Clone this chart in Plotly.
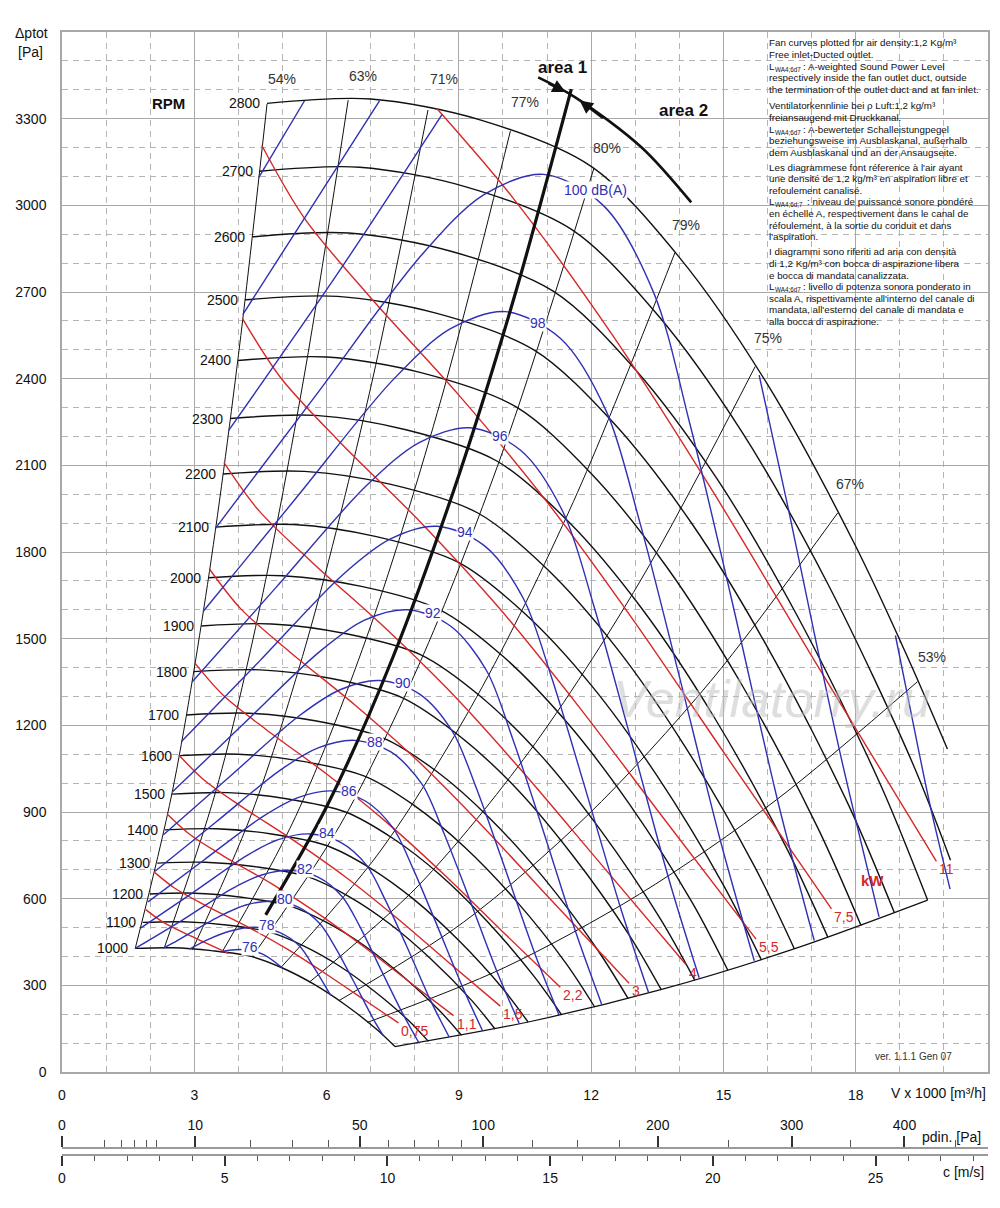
import plotly.graph_objects as go

FONT = "Liberation Sans, Arial, Helvetica, sans-serif"
INK = "#111111"
BLUE = "#3030b4"
RED = "#d62828"
GRID = "#a8a8a8"

# speed curves: flow V [x1000 m3/h] and total pressure [Pa]
rpm = [1000, 1100, 1200, 1300, 1400, 1500, 1600, 1700, 1800, 1900,
       2000, 2100, 2200, 2300, 2400, 2500, 2600, 2700, 2800]
rpm_v = [
    [1.66, 2.5, 3.39, 4.29, 5.0, 5.71, 6.43, 7.14, 7.55],
    [1.83, 2.75, 3.73, 4.71, 5.5, 6.29, 7.07, 7.86, 8.31],
    [1.99, 3.0, 4.07, 5.14, 6.0, 6.86, 7.71, 8.57, 9.06],
    [2.16, 3.25, 4.41, 5.57, 6.5, 7.43, 8.36, 9.29, 9.82],
    [2.33, 3.5, 4.75, 6.0, 7.0, 8.0, 9.0, 10.0, 10.57],
    [2.49, 3.75, 5.09, 6.43, 7.5, 8.57, 9.64, 10.71, 11.33],
    [2.66, 4.0, 5.43, 6.86, 8.0, 9.14, 10.29, 11.43, 12.08],
    [2.82, 4.25, 5.77, 7.29, 8.5, 9.71, 10.93, 12.14, 12.84],
    [2.99, 4.5, 6.11, 7.71, 9.0, 10.29, 11.57, 12.86, 13.59],
    [3.16, 4.75, 6.45, 8.14, 9.5, 10.86, 12.21, 13.57, 14.35],
    [3.32, 5.0, 6.79, 8.57, 10.0, 11.43, 12.86, 14.29, 15.1],
    [3.49, 5.25, 7.13, 9.0, 10.5, 12.0, 13.5, 15.0, 15.86],
    [3.65, 5.5, 7.46, 9.43, 11.0, 12.57, 14.14, 15.71, 16.61],
    [3.82, 5.75, 7.8, 9.86, 11.5, 13.14, 14.79, 16.43, 17.37],
    [3.99, 6.0, 8.14, 10.29, 12.0, 13.71, 15.43, 17.14, 18.12],
    [4.15, 6.25, 8.48, 10.71, 12.5, 14.29, 16.07, 17.86, 18.88],
    [4.32, 6.5, 8.82, 11.14, 13.0, 14.86, 16.71, 18.57, 19.63],
    [4.48, 6.75, 9.16, 11.57, 13.5, 15.43, 17.36, 19.29, 20.15],
    [4.65, 7.0, 9.5, 12.0, 14.0, 16.0, 18.0, 19.2, 20.08],
]
rpm_p = [
    [428, 430, 420, 400, 360, 304, 232, 147, 88],
    [518, 520, 509, 484, 435, 367, 281, 178, 106],
    [616, 619, 605, 576, 518, 437, 334, 211, 127],
    [723, 726, 710, 676, 608, 513, 392, 248, 149],
    [838, 842, 824, 784, 705, 595, 455, 288, 173],
    [962, 967, 946, 900, 809, 683, 522, 330, 198],
    [1095, 1100, 1076, 1024, 921, 777, 594, 376, 225],
    [1236, 1242, 1215, 1156, 1040, 877, 671, 424, 254],
    [1386, 1392, 1362, 1296, 1165, 984, 752, 475, 285],
    [1544, 1551, 1517, 1444, 1299, 1096, 838, 530, 318],
    [1711, 1718, 1681, 1600, 1439, 1214, 929, 587, 352],
    [1886, 1895, 1853, 1763, 1586, 1339, 1024, 647, 388],
    [2070, 2079, 2034, 1935, 1741, 1469, 1124, 710, 426],
    [2262, 2273, 2223, 2115, 1903, 1606, 1228, 776, 466],
    [2463, 2475, 2421, 2303, 2072, 1749, 1337, 845, 507],
    [2673, 2685, 2627, 2499, 2248, 1897, 1451, 917, 550],
    [2891, 2904, 2841, 2703, 2432, 2052, 1569, 992, 595],
    [3118, 3132, 3064, 2915, 2622, 2213, 1692, 1069, 733],
    [3353, 3368, 3295, 3135, 2820, 2380, 1820, 1428, 1118],
]

# constant efficiency lines
eff_labels = ["54%", "63%", "71%", "77%", "80%", "79%", "75%", "67%", "53%"]
eff_v = [
    [1.66, 2.5, 3.3, 4.0, 4.65],
    [2.32, 3.5, 4.5, 5.5, 6.49],
    [2.96, 4.3, 5.6, 7.0, 8.3],
    [3.63, 5.3, 7.0, 8.6, 10.17],
    [4.31, 6.3, 8.2, 10.1, 12.06],
    [4.96, 7.2, 9.4, 11.6, 13.9],
    [5.61, 8.1, 10.6, 13.1, 15.72],
    [6.28, 9.1, 11.9, 14.7, 17.59],
    [6.93, 10.0, 13.1, 16.2, 19.4],
]
eff_p = [
    [427, 969, 1688, 2480, 3351],
    [430, 978, 1617, 2416, 3364],
    [424, 894, 1516, 2369, 3330],
    [415, 885, 1544, 2330, 3258],
    [399, 853, 1446, 2193, 3127],
    [361, 761, 1297, 1975, 2836],
    [311, 648, 1110, 1696, 2442],
    [247, 518, 886, 1351, 1935],
    [172, 359, 616, 942, 1351],
]
eff_label_v = [4.99, 6.83, 8.67, 10.51, 12.37, 14.16, 16.02, 17.88, 19.74]
eff_label_p = [3439, 3446, 3439, 3356, 3197, 2931, 2540, 2035, 1436]

# lower limit of the field, area boundary and arrow
limit_v = [7.55, 10.6, 13.6, 16.6, 19.63]
limit_p = [88, 174, 286, 426, 595]
area_v = [4.62, 6.0, 7.5, 9.0, 10.3, 11.55]
area_p = [544, 918, 1434, 2066, 2705, 3402]
arrow_v = [10.8, 11.64, 13.14, 14.27]
arrow_p = [3443, 3374, 3201, 3010]

# sound power level curves dB(A)
db_labels = ["76", "78", "80", "82", "84", "86", "88", "90", "92", "94", "96", "98",
             "100 dB(A)"]
db_v = [
    [3.59, 4.04, 4.54, 5.0],
    [2.89, 3.27, 3.84, 4.38, 4.93, 5.39, 5.71, 6.09],
    [2.3, 2.51, 3.56, 4.17, 4.76, 5.36, 5.85, 6.21, 6.61, 7.08, 7.29],
    [1.66, 2.73, 3.86, 4.53, 5.18, 5.82, 6.36, 6.75, 7.18, 7.7, 8.09],
    [1.79, 2.97, 4.2, 4.92, 5.62, 6.32, 6.91, 7.33, 7.81, 8.36, 8.78],
    [1.95, 3.22, 4.56, 5.35, 6.11, 6.87, 7.51, 7.96, 8.48, 9.09, 9.54],
    [2.11, 3.5, 4.95, 5.81, 6.64, 7.46, 8.16, 8.65, 9.21, 9.87, 10.37],
    [2.3, 3.8, 5.38, 6.32, 7.21, 8.11, 8.86, 9.4, 10.01, 10.73, 11.27],
    [2.5, 4.13, 5.85, 6.86, 7.84, 8.81, 9.63, 10.21, 10.88, 11.66, 12.24],
    [2.71, 4.49, 6.35, 7.46, 8.51, 9.57, 10.46, 11.1, 11.82, 12.67, 13.3],
    [2.95, 4.88, 6.9, 8.1, 9.25, 10.4, 11.37, 12.06, 12.84, 13.76, 14.45],
    [3.2, 5.3, 7.5, 8.8, 10.05, 11.3, 12.35, 13.1, 13.95, 14.95, 15.7],
    [3.48, 5.76, 8.15, 9.56, 10.92, 12.28, 13.42, 14.23, 15.16, 16.24, 17.06],
    [3.78, 6.26, 8.62, None, 15.81, 16.47, 17.06, 17.65, 18.53],
    [4.1, 5.5, 7.2, None, 18.9, 19.18, 19.69, 20.14],
    [4.46, 5.5],
]
db_p = [
    [416, 424, 409, 360],
    [425, 456, 489, 501, 483, 435, 363, 266],
    [429, 446, 538, 578, 591, 571, 513, 428, 315, 178, 125],
    [428, 526, 635, 682, 698, 674, 606, 505, 371, 210, 102],
    [499, 621, 750, 805, 824, 795, 715, 596, 438, 247, 121],
    [589, 734, 885, 950, 973, 939, 844, 704, 517, 292, 142],
    [695, 866, 1045, 1122, 1148, 1108, 997, 831, 611, 345, 168],
    [821, 1022, 1233, 1324, 1355, 1308, 1177, 981, 721, 407, 198],
    [969, 1207, 1456, 1564, 1600, 1544, 1389, 1158, 851, 480, 234],
    [1144, 1424, 1719, 1846, 1889, 1823, 1640, 1367, 1005, 567, 276],
    [1350, 1682, 2029, 2179, 2230, 2152, 1936, 1614, 1186, 669, 326],
    [1594, 1985, 2395, 2572, 2632, 2540, 2285, 1905, 1400, 790, 385],
    [1882, 2343, 2827, 3036, 3107, 2999, 2697, 2249, 1653, 933, 455],
    [2221, 2766, 3315, None, 2412, 1951, 1519, 1101, 537],
    [2622, 2956, 3362, None, 1511, 1300, 921, 633],
    [3096, 3362],
]
db_label_v = [4.27, 4.65, 5.06, 5.51, 6.01, 6.51, 7.1, 7.74, 8.42, 9.14, 9.94, 10.8, 12.1]
db_label_p = [433, 509, 599, 702, 827, 972, 1142, 1346, 1588, 1869, 2201, 2592, 3052]

# absorbed power lines kW (lowest one has no label)
kw_labels = ["", "0,75", "1,1", "1,5", "2,2", "3", "4", "5,5", "7,5", "11"]
kw_v = [
    [1.9, 2.3, 2.93, 3.77],
    [2.1, 2.55, 3.25, 4.18, 5.11, 6.03, 6.96, 7.63],
    [2.39, 2.9, 3.69, 4.75, 5.8, 6.86, 7.91, 8.88],
    [2.65, 3.22, 4.09, 5.26, 6.43, 7.6, 8.77, 9.94],
    [3.01, 3.65, 4.65, 5.98, 7.31, 8.64, 9.97, 11.3],
    [3.34, 4.05, 5.16, 6.63, 8.11, 9.58, 11.05, 12.86],
    [3.67, 4.46, 5.68, 7.3, 8.92, 10.54, 12.17, 14.15],
    [4.09, 4.96, 6.31, 8.12, 9.92, 11.72, 13.53, 15.74],
    [4.53, 5.5, 7.0, 9.0, 11.0, 13.0, 15.0, 17.45],
    [8.5, 10.23, 12.5, 14.77, 17.04, 19.83],
]
kw_p = [
    [562, 518, 470, 411],
    [691, 637, 577, 505, 425, 335, 239, 170],
    [892, 822, 745, 652, 549, 432, 308, 195],
    [1097, 1011, 917, 801, 675, 532, 379, 228],
    [1416, 1305, 1183, 1034, 871, 687, 489, 293],
    [1742, 1604, 1455, 1272, 1071, 844, 602, 307],
    [2110, 1944, 1763, 1541, 1298, 1023, 729, 372],
    [2609, 2403, 2179, 1905, 1605, 1265, 901, 460],
    [3208, 2955, 2680, 2343, 1973, 1555, 1108, 565],
    [3335, 3025, 2547, 2007, 1430, 729],
]

# secondary scales under the chart
pdin_major = [0, 10, 50, 100, 200, 300, 400]
pdin_minor = [1, 2, 3, 4, 5, 20, 30, 40, 60, 70, 80, 90, 125, 150, 175, 250, 350, 450]
PDIN_PER_V = 0.9553   # V (x1000 m3/h) per sqrt(Pa)
C_PER_V = 1.355       # m/s per 1000 m3/h

# note block; "L|sub|rest" marks a line that starts with a subscripted symbol
notes = [
    ["Fan curves plotted for air density:1,2 Kg/m³",
     "Free inlet-Ducted outlet.",
     "L|WA4;6d7|: A-weighted Sound Power Level",
     "respectively inside the fan outlet duct, outside",
     "the termination of the outlet duct and at fan inlet."],
    ["Ventilatorkennlinie bei ρ Luft:1,2 kg/m³",
     "freiansaugend mit Druckkanal.",
     "L|WA4;6d7|: A-bewerteter Schalleistungpegel",
     "beziehungsweise im Ausblaskanal, außerhalb",
     "dem Ausblaskanal und an der Ansaugseite."],
    ["Les diagrammese font réference à l'air ayant",
     "une densité de 1,2 kg/m³ en aspiration libre et",
     "refoulement canalisé.",
     "L|WA4;6d;7|: niveau de puissance sonore pondéré",
     "en échelle A, respectivement dans le canal de",
     "réfoulement, à la sortie du conduit et dans",
     "l'aspiration."],
    ["I diagrammi sono riferiti ad aria con densità",
     "di 1,2 Kg/m³ con bocca di aspirazione libera",
     "e bocca di mandata canalizzata.",
     "L|WA4;6d7|: livello di potenza sonora ponderato in",
     "scala A, rispettivamente all'interno del canale di",
     "mandata, all'esterno del canale di mandata e",
     "alla bocca di aspirazione."],
]
notes_first_px = [43, 106, 167, 252]   # first line centre, pixels from top of page
NOTE_STEP = 11.6

fig = go.Figure()


def add_line(v, p, color, width):
    fig.add_trace(go.Scatter(x=v, y=p, mode="lines", showlegend=False, hoverinfo="skip",
                             line=dict(color=color, width=width, shape="spline", smoothing=0.9)))


for v, p in zip(eff_v, eff_p):
    add_line(v, p, INK, 1.0)
add_line(limit_v, limit_p, INK, 1.2)
for v, p in zip(rpm_v, rpm_p):
    add_line(v, p, INK, 1.4)
for v, p in zip(kw_v, kw_p):
    add_line(v, p, RED, 1.4)
for v, p in zip(db_v, db_p):
    add_line(v, p, BLUE, 1.4)
add_line(area_v, area_p, INK, 3.2)
add_line(arrow_v, arrow_p, INK, 2.6)

# invisible traces so the two extra scales are drawn
fig.add_trace(go.Scatter(x=[0], y=[-500], xaxis="x2", mode="markers",
                         marker=dict(opacity=0), showlegend=False, hoverinfo="skip"))
fig.add_trace(go.Scatter(x=[0], y=[-500], xaxis="x3", mode="markers",
                         marker=dict(opacity=0), showlegend=False, hoverinfo="skip"))

ann = []
for n, v, p in zip(rpm, rpm_v, rpm_p):
    ann.append(dict(x=v[0], y=p[0], text=str(n), xanchor="right", xshift=-5,
                    showarrow=False, font=dict(size=14, color=INK)))
ann.append(dict(x=2.41, y=3353, text="<b>RPM</b>", showarrow=False,
                font=dict(size=15, color=INK)))
for t, v, p in zip(eff_labels, eff_label_v, eff_label_p):
    ann.append(dict(x=v, y=p, text=t, showarrow=False, font=dict(size=14, color="#333333")))
for t, v, p in zip(db_labels, db_label_v, db_label_p):
    ann.append(dict(x=v, y=p, text=t, showarrow=False, bgcolor="white", borderpad=0,
                    font=dict(size=14, color=BLUE)))
for t, v, p in zip(kw_labels, kw_v, kw_p):
    if t:
        ann.append(dict(x=v[-1], y=p[-1], text=t, xanchor="left", xshift=1, yshift=-8,
                        showarrow=False, font=dict(size=14, color=RED)))
ann.append(dict(x=18.38, y=664, text="<b>kW</b>", showarrow=False,
                font=dict(size=15, color=RED)))
ann.append(dict(x=11.35, y=3477, text="<b>area 1</b>", showarrow=False,
                font=dict(size=17, color=INK)))
ann.append(dict(x=14.09, y=3328, text="<b>area 2</b>", showarrow=False,
                font=dict(size=17, color=INK)))
ann.append(dict(x=11.42, y=3392, ax=11.0, ay=3425, axref="x", ayref="y", text="",
                showarrow=True, arrowhead=2, arrowsize=1.1, arrowwidth=2.4, arrowcolor=INK))
ann.append(dict(x=11.74, y=3363, ax=12.3, ay=3298, axref="x", ayref="y", text="",
                showarrow=True, arrowhead=2, arrowsize=1.1, arrowwidth=2.4, arrowcolor=INK))

for lines, first in zip(notes, notes_first_px):
    for i, line in enumerate(lines):
        y = (1168 - first - i * NOTE_STEP) / 1136
        base = dict(xref="paper", yref="paper", x=0.7613, y=y, xanchor="left",
                    yanchor="middle", showarrow=False)
        if "|" in line:
            sym, sub, rest = line.split("|")
            ann.append(dict(base, text=sym, font=dict(size=9.8, color=INK)))
            ann.append(dict(base, text=sub, xshift=6, yshift=-3, font=dict(size=6.3, color=INK)))
            ann.append(dict(base, text=rest, xshift=9 + 3.6 * len(sub),
                            font=dict(size=9.8, color=INK)))
        else:
            ann.append(dict(base, text=line, font=dict(size=9.8, color=INK)))

ann.append(dict(x=16.1, y=1290, text="Ventilatorry.ru", showarrow=False,
                font=dict(size=52, color="rgba(190,190,190,0.5)", style="italic")))
ann.append(dict(x=19.31, y=52, text="ver. 1.1.1 Gen 07", showarrow=False,
                font=dict(size=10, color="#333333")))
for text, px, py in [("Δptot", 32, 33), ("[Pa]", 31, 52), ("V x 1000 [m³/h]", 938, 1093),
                     ("pdin. [Pa]", 951, 1137), ("c [m/s]", 963, 1172)]:
    ann.append(dict(xref="paper", yref="paper", x=(px - 62) / 926, y=(1168 - py) / 1136,
                    xanchor="center", yanchor="middle", text=text, showarrow=False,
                    font=dict(size=14, color=INK)))

minor_grid = dict(tickmode="linear", tick0=0, showgrid=True, gridcolor="#b4b4b4",
                  gridwidth=1, griddash="6px,5px")

# the page adds an 8 px body margin, so the figure margins are 8 px smaller
fig.update_layout(
    width=1000, height=1208,
    margin=dict(l=54, r=20, t=24, b=48, autoexpand=False),
    plot_bgcolor="white", paper_bgcolor="white",
    font=dict(family=FONT, color=INK),
    hovermode=False,
    annotations=ann,
    xaxis=dict(range=[0, 21], tickmode="array", tickvals=[0, 3, 6, 9, 12, 15, 18],
               showgrid=True, gridcolor=GRID, gridwidth=1.2, zeroline=False,
               showline=True, mirror=True, linecolor=GRID, linewidth=1.5, automargin=False,
               ticks="", ticklabelstandoff=9, tickfont=dict(size=14),
               minor=dict(dtick=1, **minor_grid)),
    yaxis=dict(range=[0, 3600], domain=[0.084507, 1], tickmode="array",
               tickvals=[0, 300, 600, 900, 1200, 1500, 1800, 2100, 2400, 2700, 3000, 3300],
               showgrid=True, gridcolor=GRID, gridwidth=1.2, zeroline=False,
               showline=True, mirror=True, linecolor=GRID, linewidth=1.5, automargin=False,
               ticks="", ticklabelstandoff=11, tickfont=dict(size=14),
               minor=dict(dtick=100, **minor_grid)),
    xaxis2=dict(overlaying="x", anchor="free", position=0.0176, side="top",
                range=[0, 21 / PDIN_PER_V], tickmode="array", automargin=False,
                tickvals=[t ** 0.5 for t in pdin_major], ticktext=[str(t) for t in pdin_major],
                ticks="outside", ticklen=11, tickwidth=1.5, tickcolor="#333333",
                showline=True, linecolor="#9a9a9a", linewidth=2, showgrid=False,
                zeroline=False, tickfont=dict(size=14),
                minor=dict(tickmode="array", tickvals=[t ** 0.5 for t in pdin_minor],
                           ticks="outside", ticklen=7, tickwidth=1, tickcolor="#555555",
                           showgrid=False)),
    xaxis3=dict(overlaying="x", anchor="free", position=0.01144, side="bottom",
                range=[0, 21 * C_PER_V], tickmode="linear", tick0=0, dtick=5, automargin=False,
                ticks="outside", ticklen=10, tickwidth=1.5, tickcolor="#333333",
                showline=True, linecolor="#9a9a9a", linewidth=2, showgrid=False,
                zeroline=False, tickfont=dict(size=14),
                minor=dict(tick0=0, dtick=1, ticks="outside", ticklen=5, tickwidth=1,
                           tickcolor="#555555", showgrid=False)),
)

fig.write_html("out.html")
